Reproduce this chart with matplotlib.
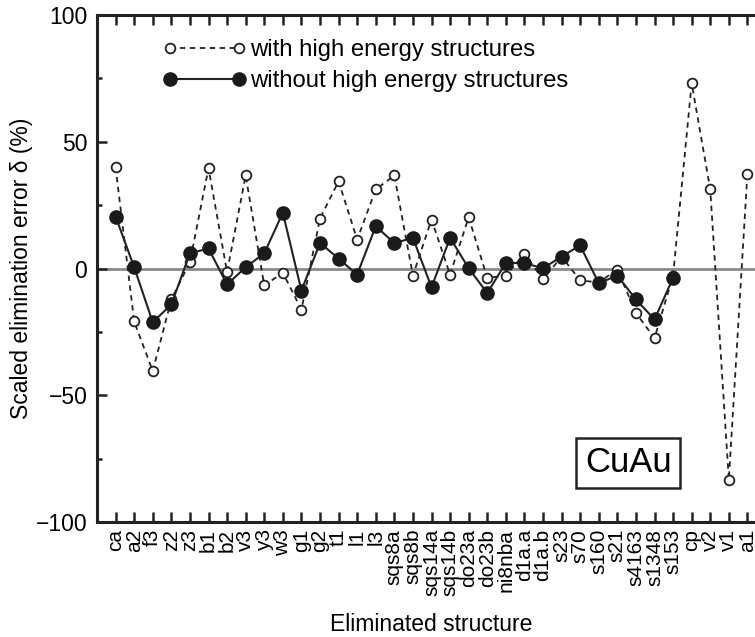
import numpy as np
import matplotlib
matplotlib.use("Agg")
import matplotlib.pyplot as plt

plt.rcParams['font.family'] = ['Liberation Sans', 'DejaVu Sans']

# Исключённые структуры (ось x)
structures = ['ca', 'a2', 'f3', 'z2', 'z3', 'b1', 'b2', 'v3', 'y3', 'w3', 'g1', 'g2',
              't1', 'l1', 'l3', 'sqs8a', 'sqs8b', 'sqs14a', 'sqs14b', 'do23a', 'do23b',
              'ni8nba', 'd1a.a', 'd1a.b', 's23', 's70', 's160', 's21', 's4163', 's1348',
              's153', 'cp', 'v2', 'v1', 'a1']

# Ошибка с высокоэнергетическими структурами
with_high = [40, -20.9, -40.5, -12.2, 2.5, 39.6, -1.4, 36.7, -6.7, -1.7, -16.2, 19.7,
             34.4, 11.4, 31.2, 36.7, -2.8, 19.3, -2.4, 20.2, -3.7,
             -2.8, 5.8, -4.3, 4.7, -4.7, -5.5, -0.4, -17.5, -27.5,
             -2.8, 73.1, 31.2, -83.4, 37.4]

# Ошибка без высокоэнергетических структур
without_high = [20.5, 0.5, -21.2, -14.2, 6, 7.9, -6.3, 0.5, 6, 22, -8.7, 10.1,
                3.9, -2.4, 16.7, 10, 12.1, -7.4, 12.1, 0.1, -9.7,
                2.2, 2.1, 0.1, 4.7, 9.1, -5.8, -2.8, -12.2, -20.1,
                -3.7, np.nan, np.nan, np.nan, np.nan]

x = np.arange(len(structures))

fig = plt.figure(figsize=(7.55, 6.37), dpi=100)
ax = fig.add_axes([97/755, 115/637, (766-97)/755, (522-15)/637])

ax.axhline(0, color='#8a8a8a', lw=2, zorder=1)

ax.plot(x, with_high, ls=(0, (3, 2.5)), color='#222222', lw=1.3,
        marker='o', ms=7, mfc='white', mec='#222222', mew=1.3, zorder=3,
        label='with high energy structures')
ax.plot(x, without_high, ls='-', color='#222222', lw=1.5,
        marker='o', ms=9.5, mfc='#1a1a1a', mec='#1a1a1a', zorder=4,
        label='without high energy structures')

ax.set_xlim(-1, 35)
ax.set_ylim(-100, 100)
ax.set_xticks(x)
ax.set_xticklabels(structures, rotation=90, fontsize=15)
ax.set_yticks([-100, -50, 0, 50, 100])
ax.set_yticks([-75, -25, 25, 75], minor=True)
ax.set_yticklabels(['\u2212100', '\u221250', '0', '50', '100'], fontsize=16.5)

ax.tick_params(axis='both', which='major', direction='in', length=7.5, width=1.8,
               top=True, right=True, color='#222222')
ax.tick_params(axis='y', which='minor', direction='in', length=3.5, width=1.8,
               right=True, color='#222222')
ax.tick_params(axis='x', pad=5)
ax.tick_params(axis='y', pad=7)
for s in ax.spines.values():
    s.set_linewidth(2.2)
    s.set_color('#222222')

ax.set_ylabel('Scaled elimination error \u03b4 (%)', fontsize=16.5, labelpad=2)
ax.set_xlabel('Eliminated structure', fontsize=16.5, labelpad=12)

ax.legend(loc='upper left', bbox_to_anchor=(0.066, 0.995), frameon=False, fontsize=17.2,
          numpoints=2, handlelength=3.5, handletextpad=0.15, labelspacing=0.38,
          borderaxespad=0.5)

ax.text(27.6, -76.6, 'CuAu', fontsize=25, ha='center', va='center',
        bbox=dict(boxstyle='square,pad=0.25', fc='white', ec='#222222', lw=1.8))

fig.savefig('out.png', dpi=100)
